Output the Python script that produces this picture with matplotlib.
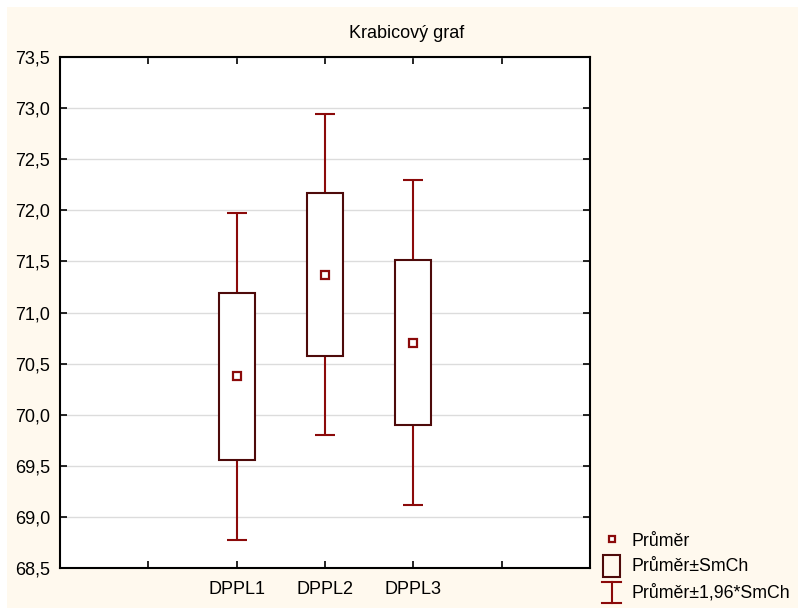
import matplotlib
matplotlib.use("Agg")
import matplotlib.pyplot as plt
from matplotlib.lines import Line2D
from matplotlib.patches import Rectangle
from matplotlib.legend_handler import HandlerBase
from matplotlib.ticker import FuncFormatter

# data: group means and standard errors
groups = ["DPPL1", "DPPL2", "DPPL3"]
means = [70.375, 71.37, 70.705]
se = [0.815, 0.80, 0.81]

plt.rcParams["font.family"] = ["Liberation Sans", "DejaVu Sans"]

WHISK = "#8B0A0A"
BOX = "#4E0A0A"
BG = "#FFF9EE"


class HandlerIBeam(HandlerBase):
    """legend key: vertical line with two caps"""
    def create_artists(self, legend, orig_handle, xd, yd, width, height, fontsize, trans):
        cx = xd + width / 2
        w = width * 0.95
        y0, y1 = yd - height * 0.45, yd + height * 1.3
        lines = [
            Line2D([cx, cx], [y0, y1]),
            Line2D([cx - w / 2, cx + w / 2], [y0, y0]),
            Line2D([cx - w / 2, cx + w / 2], [y1, y1]),
        ]
        for ln in lines:
            ln.set_color(WHISK)
            ln.set_linewidth(1.5)
            ln.set_transform(trans)
        return lines


class HandlerBox(HandlerBase):
    """legend key: hollow box"""
    def create_artists(self, legend, orig_handle, xd, yd, width, height, fontsize, trans):
        w = width * 0.85
        r = Rectangle((xd + (width - w) / 2, yd - height * 0.45), w, height * 1.75,
                      facecolor="none", edgecolor=BOX, linewidth=1.5, transform=trans)
        return [r]


fig = plt.figure(figsize=(7.98, 6.08), dpi=100)
fig.patch.set_facecolor("white")
fig.patches.append(Rectangle((7 / 798, 0), 1, 1 - 7 / 608, transform=fig.transFigure,
                             facecolor=BG, edgecolor="none", zorder=-10))

ax = fig.add_axes([60 / 798, 1 - 568 / 608, 530 / 798, 511 / 608])
ax.set_facecolor("white")

pos = [2, 3, 4]
lo = [m - s for m, s in zip(means, se)]
hi = [m + s for m, s in zip(means, se)]
ci = [1.96 * s for s in se]

ax.errorbar(pos, means, yerr=ci, fmt="none", ecolor=WHISK, elinewidth=1.5,
            capsize=7.5, capthick=1.5, zorder=2)
ax.bar(pos, [h - l for h, l in zip(hi, lo)], bottom=lo, width=0.41,
       facecolor="white", edgecolor=BOX, linewidth=1.5, zorder=3)
ax.plot(pos, means, "s", markersize=5.5, markerfacecolor="white",
        markeredgecolor=WHISK, markeredgewidth=1.6, zorder=4)

ax.set_xlim(0, 6)
ax.set_ylim(68.5, 73.5)
ax.set_xticks([1, 2, 3, 4, 5])
ax.set_xticklabels([""] + groups + [""])
ax.set_yticks([68.5 + 0.5 * i for i in range(11)])
ax.yaxis.set_major_formatter(FuncFormatter(lambda v, p: f"{v:.1f}".replace(".", ",")))
ax.tick_params(direction="in", top=True, right=True, length=5, width=1.2,
               labelsize=13, colors="black")
ax.tick_params(axis="y", pad=7)
ax.tick_params(axis="x", pad=9)
ax.grid(axis="y", color="#DCDCDC", linewidth=1)
ax.set_axisbelow(True)
for sp in ax.spines.values():
    sp.set_linewidth(1.5)

fig.text(407 / 798, 1 - 33 / 608, "Krabicový graf", ha="center", va="center", fontsize=13)

h_mean = Line2D([], [], marker="s", linestyle="none", markersize=4.8,
                markerfacecolor="white", markeredgecolor=WHISK, markeredgewidth=1.6)
h_box = Rectangle((0, 0), 1, 1)
h_ci = Line2D([], [])
fig.legend([h_mean, h_box, h_ci], ["Průměr", "Průměr±SmCh", "Průměr±1,96*SmCh"],
           handler_map={Rectangle: HandlerBox(), h_ci: HandlerIBeam()},
           loc="lower left", bbox_to_anchor=(592 / 798, -0.006), frameon=False,
           fontsize=12.8, handlelength=1.1, handletextpad=0.55, labelspacing=0.5,
           borderaxespad=0.15)

fig.savefig("out.png", dpi=100, facecolor=fig.get_facecolor())
